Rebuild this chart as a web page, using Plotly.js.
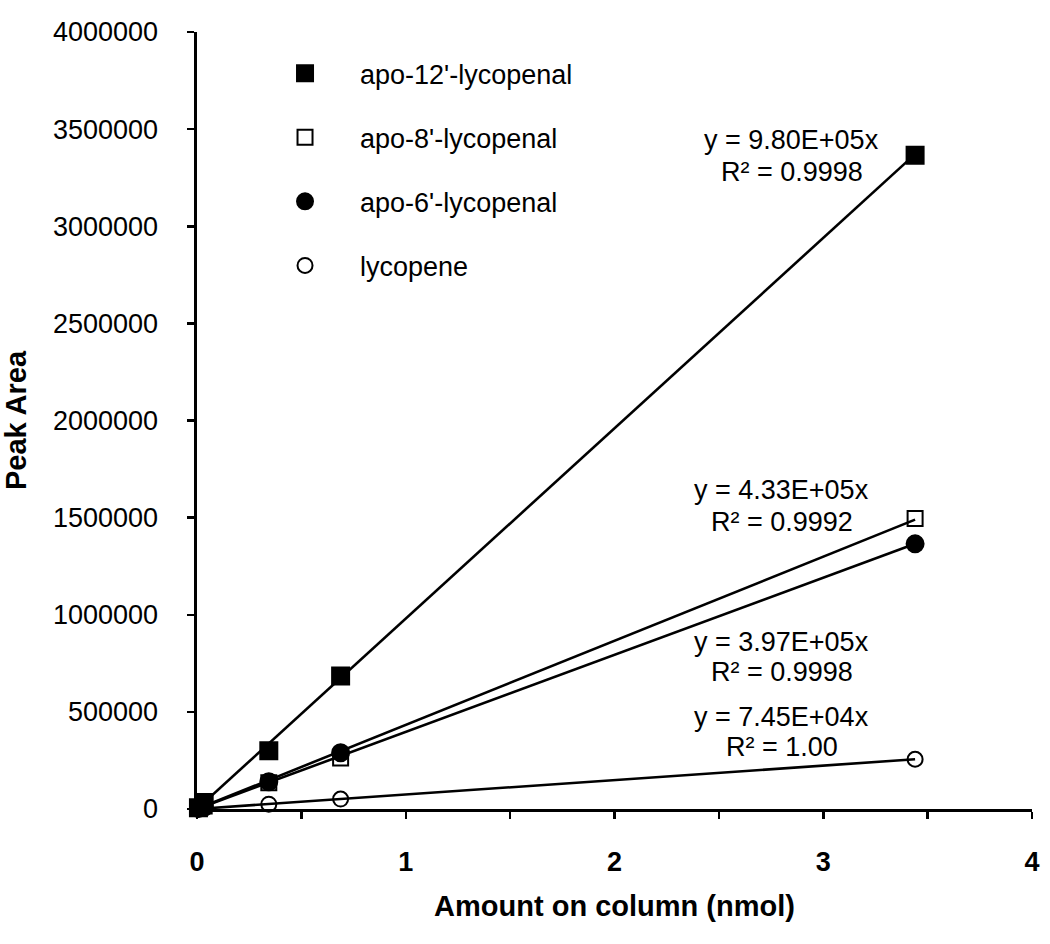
<!DOCTYPE html>
<html>
<head>
<meta charset="utf-8">
<script src="https://cdn.plot.ly/plotly-3.0.1.min.js"></script>
<style>html,body{margin:0;padding:0;background:#fff;}#chart{width:1050px;height:944px;}</style>
</head>
<body>
<div id="chart"></div>
<script>
// Data
const amountNmol = [0.00688, 0.0344, 0.344, 0.688, 3.44];
const seriesNames = ["apo-12'-lycopenal", "apo-8'-lycopenal", "apo-6'-lycopenal", "lycopene"];
const apo12Area = [6700, 33700, 300000, 685000, 3365000];
const apo8Area = [3000, 14900, 135000, 262000, 1495000];
const apo6Area = [2700, 13700, 140000, 290000, 1365000];
const lycopeneArea = [500, 2600, 25000, 51000, 256000];
const slopes = [9.80e5, 4.33e5, 3.97e5, 7.45e4];
const eqLabels = ["y = 9.80E+05x", "y = 4.33E+05x", "y = 3.97E+05x", "y = 7.45E+04x"];
const r2Labels = ["R² = 0.9998", "R² = 0.9992", "R² = 0.9998", "R² = 1.00"];
const yTickVals = [0, 500000, 1000000, 1500000, 2000000, 2500000, 3000000, 3500000, 4000000];
const xTickVals = [0, 1, 2, 3, 4];

const areas = [apo12Area, apo8Area, apo6Area, lycopeneArea];
const symbols = ['square', 'square-open', 'circle', 'circle-open'];
const sizes = [17, 15, 17, 15];

const FONT = 'Liberation Sans, Arial, sans-serif';
const traces = [];
// trendlines through origin
const xMax = Math.max(...amountNmol);
slopes.forEach((s, i) => {
  traces.push({
    x: [0, xMax], y: [0, s * xMax], mode: 'lines', showlegend: false,
    line: {color: '#000', width: 2.6}, hoverinfo: 'skip', cliponaxis: false
  });
});
areas.forEach((a, i) => {
  traces.push({
    x: amountNmol, y: a, mode: 'markers', name: seriesNames[i],
    legendgroup: 'g' + i, cliponaxis: false,
    marker: {symbol: symbols[i], size: sizes[i], color: '#000', line: {color: '#000', width: 2}}
  });
});

// annotation positions (data coords)
const eqX = [2.85, 2.80, 2.80, 2.80];
const eqY = [3.444e6, 1.642e6, 0.860e6, 0.474e6];
const r2Y = [3.279e6, 1.477e6, 0.705e6, 0.319e6];
const annotations = [];
for (let i = 0; i < 4; i++) {
  annotations.push({x: eqX[i], y: eqY[i], xref: 'x', yref: 'y', text: eqLabels[i], showarrow: false,
    font: {family: FONT, size: 27, color: '#000'}, xanchor: 'center', yanchor: 'middle'});
  annotations.push({x: eqX[i], y: r2Y[i], xref: 'x', yref: 'y', text: r2Labels[i], showarrow: false,
    font: {family: FONT, size: 27, color: '#000'}, xanchor: 'center', yanchor: 'middle'});
}

const layout = {
  width: 1050, height: 944,
  margin: {l: 197, r: 18, t: 32, b: 135},
  paper_bgcolor: '#fff', plot_bgcolor: '#fff',
  font: {family: FONT, color: '#000'},
  showlegend: true,
  legend: {x: 0.0635, y: 0.978, xanchor: 'left', yanchor: 'top', bgcolor: 'rgba(0,0,0,0)',
    font: {family: FONT, size: 27, color: '#000'}, tracegroupgap: 26, traceorder: 'grouped', itemwidth: 100},
  xaxis: {
    range: [0, 4], tickvals: xTickVals, ticks: 'outside', ticklen: 7, tickwidth: 2.5, tickcolor: '#000',
    showline: true, linewidth: 2.6, linecolor: '#000', showgrid: false, zeroline: false,
    tickfont: {family: FONT, size: 27, weight: 'bold', color: '#000'}, ticklabelstandoff: 20,
    minor: {dtick: 0.5, ticks: 'outside', ticklen: 7, tickwidth: 2.5, tickcolor: '#000', showgrid: false},
    title: {text: 'Amount on column (nmol)', font: {family: FONT, size: 29, weight: 'bold', color: '#000'}, standoff: 20}
  },
  yaxis: {
    range: [0, 4000000], tickvals: yTickVals, tickformat: 'd', ticks: 'outside', ticklen: 7, tickwidth: 2.5, tickcolor: '#000',
    showline: true, linewidth: 2.6, linecolor: '#000', showgrid: false, zeroline: false,
    tickfont: {family: FONT, size: 27, color: '#000'}, ticklabelstandoff: 24,
    title: {text: 'Peak Area', font: {family: FONT, size: 29, weight: 'bold', color: '#000'}, standoff: 20}
  },
  annotations: annotations
};

Plotly.newPlot('chart', traces, layout, {staticPlot: true, displayModeBar: false});
</script>
</body>
</html>
